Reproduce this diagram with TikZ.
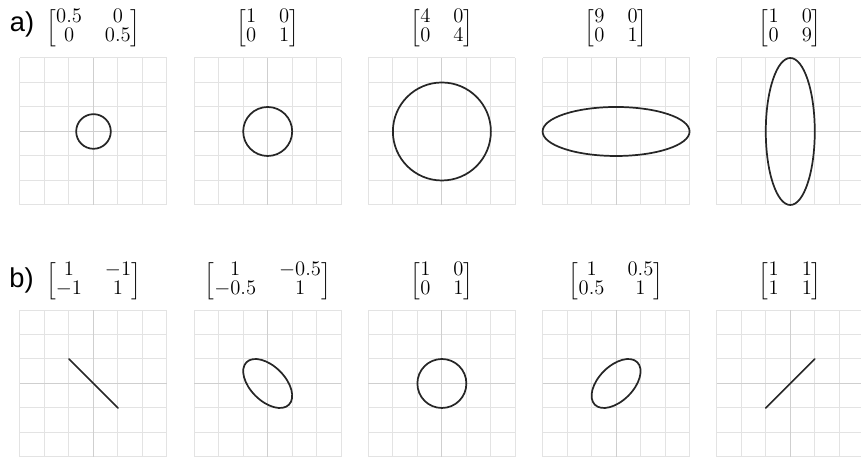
\documentclass[tikz,border=0pt]{standalone}
\usepackage{amsmath}
\usepackage{fontspec}
\newfontfamily\labelfont{Liberation Sans}
\tikzset{
  gridline/.style={draw=gray!22,line width=0.7pt},
  axisline/.style={draw=gray!38,line width=0.7pt},
  curve/.style={draw=black!85,line width=1.2pt,line cap=round},
  mat/.style={font=\fontsize{14}{16.8}\selectfont,inner sep=0pt},
  rowlabel/.style={font=\labelfont\fontsize{19}{22}\selectfont,inner sep=0pt}
}
\setlength{\arraycolsep}{8pt}
\renewcommand{\arraystretch}{0.8}
\delimitershortfall=4pt

\begin{document}
\begin{tikzpicture}[x=0.6cm,y=0.6cm]
\useasboundingbox (0,0) rectangle (35.143,18.816);
% grids, row a and row b
\foreach \i in {0,...,4}{
  \foreach \cy in {13.449,3.163}{
    \begin{scope}[shift={(3.816+7.11*\i,\cy)}]
      \draw[gridline,step=1] (-3,-3) grid (3,3);
      \draw[axisline] (-3,0) -- (3,0) (0,-3) -- (0,3);
    \end{scope}
  }
}
% row a
\node[rowlabel] (labela) at (0.9,17.8) {a)};
\node[mat] (ma1) at (3.816,17.66) {$\begin{bmatrix}0.5 & 0\\ 0 & 0.5\end{bmatrix}$};
\node[mat] (ma2) at (10.926,17.66) {$\begin{bmatrix}1 & 0\\ 0 & 1\end{bmatrix}$};
\node[mat] (ma3) at (18.036,17.66) {$\begin{bmatrix}4 & 0\\ 0 & 4\end{bmatrix}$};
\node[mat] (ma4) at (25.146,17.66) {$\begin{bmatrix}9 & 0\\ 0 & 1\end{bmatrix}$};
\node[mat] (ma5) at (32.256,17.66) {$\begin{bmatrix}1 & 0\\ 0 & 9\end{bmatrix}$};
\draw[curve] (3.816,13.449) circle (0.707);
\draw[curve] (10.926,13.449) circle (1);
\draw[curve] (18.036,13.449) circle (2);
\draw[curve] (25.146,13.449) ellipse (3 and 1);
\draw[curve] (32.256,13.449) ellipse (1 and 3);
% row b
\node[rowlabel] (labelb) at (0.88,7.35) {b)};
\node[mat] (mb1) at (3.816,7.35) {$\begin{bmatrix}1 & -1\\ -1 & 1\end{bmatrix}$};
\node[mat] (mb2) at (10.926,7.35) {$\begin{bmatrix}1 & -0.5\\ -0.5 & 1\end{bmatrix}$};
\node[mat] (mb3) at (18.036,7.35) {$\begin{bmatrix}1 & 0\\ 0 & 1\end{bmatrix}$};
\node[mat] (mb4) at (25.146,7.35) {$\begin{bmatrix}1 & 0.5\\ 0.5 & 1\end{bmatrix}$};
\node[mat] (mb5) at (32.256,7.35) {$\begin{bmatrix}1 & 1\\ 1 & 1\end{bmatrix}$};
\draw[curve] (2.816,4.163) -- (4.816,2.163);
\draw[curve,rotate around={-45:(10.926,3.163)}] (10.926,3.163) ellipse (1.225 and 0.707);
\draw[curve] (18.036,3.163) circle (1);
\draw[curve,rotate around={45:(25.146,3.163)}] (25.146,3.163) ellipse (1.225 and 0.707);
\draw[curve] (31.256,2.163) -- (33.256,4.163);
\end{tikzpicture}
\end{document}
